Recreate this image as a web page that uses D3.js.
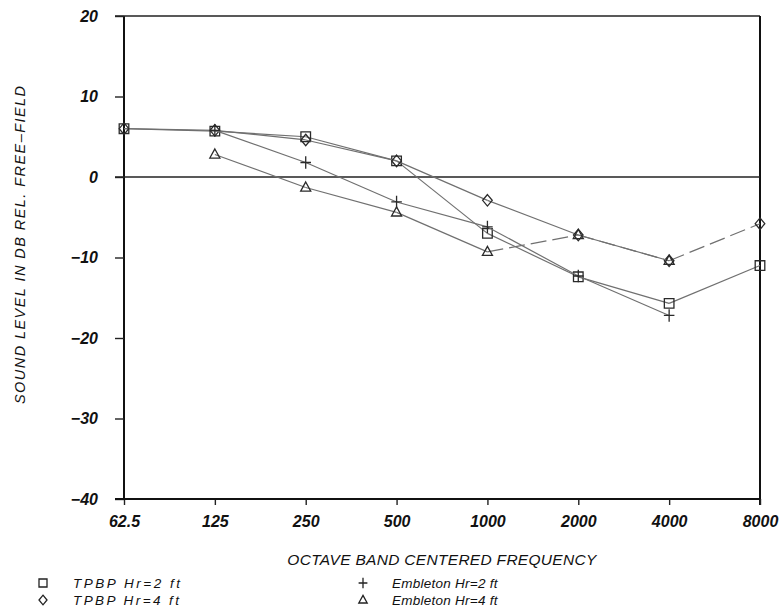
<!DOCTYPE html>
<html>
<head>
<meta charset="utf-8">
<script src="https://cdn.jsdelivr.net/npm/d3@7"></script>
<style>
  html, body { margin: 0; padding: 0; background: #fff; }
  svg text { font-family: "Liberation Sans", Arial, sans-serif; font-style: italic; fill: #111; }
</style>
</head>
<body>
<svg id="chart" width="782" height="611"></svg>
<script>
// Octave band centre frequencies (Hz)
const frequencies = [62.5, 125, 250, 500, 1000, 2000, 4000, 8000];
const freqLabels = ["62.5", "125", "250", "500", "1000", "2000", "4000", "8000"];
const yTicks = [20, 10, 0, -10, -20, -30, -40];

// Sound level relative to free field (dB); null where a band was not reported
const tpbpHr2 = [6.0, 5.7, 5.0, 2.0, -7.0, -12.4, -15.7, -11.0];
const tpbpHr4 = [6.0, 5.8, 4.6, 2.0, -2.9, -7.2, -10.4, -5.8];
const embletonHr2 = [null, 5.8, 1.8, -3.1, -6.2, -12.3, -17.2, null];
const embletonHr4 = [null, 2.8, -1.3, -4.4, -9.3, -7.2, -10.4, null];

const seriesNames = ["TPBP Hr=2 ft", "TPBP Hr=4 ft", "Embleton Hr=2 ft", "Embleton Hr=4 ft"];

const svg = d3.select("#chart");

const plotLeft = 124, plotRight = 760, plotTop = 16, plotBottom = 499;
const x = d3.scaleLog().base(2).domain([62.5, 8000]).range([plotLeft, plotRight]);
const y = d3.scaleLinear().domain([-40, 20]).range([plotBottom, plotTop]);

// Frame: left axis, top and right border
svg.append("line").attr("x1", plotLeft).attr("x2", plotLeft).attr("y1", plotTop).attr("y2", plotBottom)
  .attr("stroke", "#111").attr("stroke-width", 2);
svg.append("line").attr("x1", plotLeft - 9).attr("x2", plotRight).attr("y1", plotTop).attr("y2", plotTop)
  .attr("stroke", "#222").attr("stroke-width", 1.6);
svg.append("line").attr("x1", plotRight).attr("x2", plotRight).attr("y1", plotTop).attr("y2", plotBottom + 6)
  .attr("stroke", "#111").attr("stroke-width", 2);
// Zero reference line
svg.append("line").attr("x1", plotLeft - 9).attr("x2", plotRight).attr("y1", y(0)).attr("y2", y(0))
  .attr("stroke", "#222").attr("stroke-width", 1.6);

const tickFont = sel => sel.attr("font-size", 16).attr("font-weight", "bold")
  .attr("font-family", "'Liberation Sans', Arial, sans-serif").attr("font-style", "italic").attr("fill", "#111");

// Y axis
const yAxis = d3.axisLeft(y).tickValues(yTicks).tickSize(9).tickPadding(17)
  .tickFormat(d => d < 0 ? "\u2212" + Math.abs(d) : d);
const gy = svg.append("g").attr("transform", `translate(${plotLeft},0)`).call(yAxis);
gy.select(".domain").remove();
gy.selectAll(".tick line").attr("stroke", "#222").attr("stroke-width", 1.4);
gy.selectAll(".tick text").call(tickFont);

// X axis
const xAxis = d3.axisBottom(x).tickValues(frequencies).tickSize(6).tickPadding(11)
  .tickFormat((d, i) => freqLabels[i]);
const gx = svg.append("g").attr("transform", `translate(0,${plotBottom})`).call(xAxis);
gx.select(".domain").remove();
gx.selectAll(".tick line").attr("stroke", "#222").attr("stroke-width", 1.4);
gx.selectAll(".tick text").call(tickFont);
svg.append("line").attr("x1", plotLeft - 9).attr("x2", plotRight).attr("y1", plotBottom).attr("y2", plotBottom)
  .attr("stroke", "#111").attr("stroke-width", 2);

// Axis titles
svg.append("text").attr("x", 442).attr("y", 565).attr("text-anchor", "middle")
  .attr("font-size", 15.5).attr("letter-spacing", 0.3).text("OCTAVE BAND CENTERED FREQUENCY");
svg.append("text").attr("transform", "translate(25,245) rotate(-90)").attr("text-anchor", "middle")
  .attr("font-size", 14.5).attr("textLength", 318).attr("lengthAdjust", "spacing")
  .text("SOUND LEVEL IN DB REL. FREE\u2013FIELD");

// Marker shapes
const shapes = {
  square: s => `M${-s},${-s}H${s}V${s}H${-s}Z`,
  diamond: s => `M0,${-s * 1.2}L${s},0L0,${s * 1.2}L${-s},0Z`,
  plus: s => `M${-s * 1.1},0H${s * 1.1}M0,${-s * 1.3}V${s * 1.3}`,
  triangle: s => `M0,${-s * 1.15}L${s * 1.05},${s * 0.75}L${-s * 1.05},${s * 0.75}Z`
};

const series = [
  { name: seriesNames[0], values: tpbpHr2, shape: "square", dashFrom: Infinity },
  { name: seriesNames[1], values: tpbpHr4, shape: "diamond", dashFrom: 4000 },
  { name: seriesNames[2], values: embletonHr2, shape: "plus", dashFrom: Infinity },
  { name: seriesNames[3], values: embletonHr4, shape: "triangle", dashFrom: 1000 }
];

series.forEach(s => {
  const pts = frequencies.map((f, i) => ({ f, v: s.values[i] })).filter(p => p.v !== null);
  const segs = d3.pairs(pts);
  svg.append("g").selectAll("line").data(segs).join("line")
    .attr("x1", d => x(d[0].f)).attr("y1", d => y(d[0].v))
    .attr("x2", d => x(d[1].f)).attr("y2", d => y(d[1].v))
    .attr("stroke", "#707070").attr("stroke-width", 1.2)
    .attr("stroke-dasharray", d => d[0].f >= s.dashFrom ? "16,6" : null);
  svg.append("g").selectAll("path").data(pts).join("path")
    .attr("transform", d => `translate(${x(d.f)},${y(d.v)})`)
    .attr("d", shapes[s.shape](4.8))
    .attr("fill", "none").attr("stroke", "#2a2a2a").attr("stroke-width", 1.3);
});

// Legend: marker x, row y, text x, stretched text width (null keeps natural width)
const legendPos = [[43, 583, 73, 107], [43, 600, 73, 106], [363, 583, 392, null], [363, 600, 392, null]];
series.forEach((s, i) => {
  const [mx, my, tx, tw] = legendPos[i];
  svg.append("path").attr("transform", `translate(${mx},${my})`)
    .attr("d", shapes[s.shape](4)).attr("fill", "none").attr("stroke", "#222").attr("stroke-width", 1.3);
  const t = svg.append("text").attr("x", tx).attr("y", my + 5).attr("font-size", 13.5)
    .attr("letter-spacing", tw ? null : 0.25).text(s.name);
  if (tw) t.attr("textLength", tw).attr("lengthAdjust", "spacing");
});
</script>
</body>
</html>
